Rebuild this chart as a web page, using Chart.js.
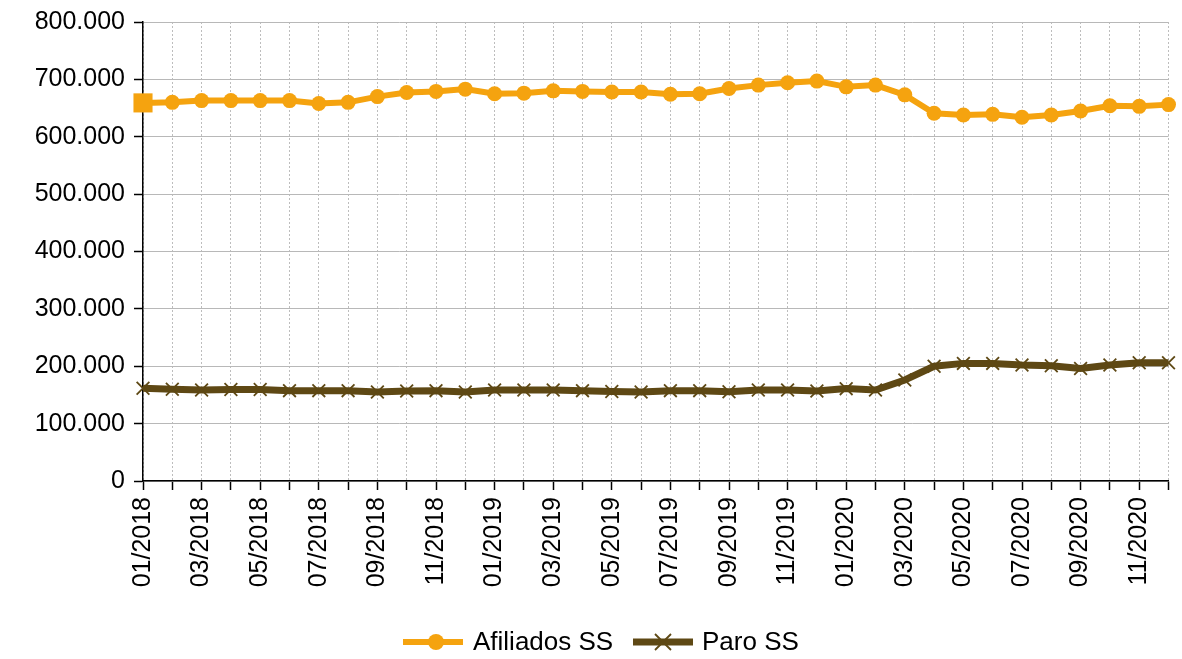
<!DOCTYPE html>
<html><head><meta charset="utf-8">
<script src="https://cdn.jsdelivr.net/npm/chart.js@4.4.1/dist/chart.umd.min.js"></script>
<style>html,body{margin:0;padding:0;background:#fff;overflow:hidden}</style>
</head><body>
<canvas id="c" width="1182" height="659"></canvas>
<script>
const categories = ['01/2018','02/2018','03/2018','04/2018','05/2018','06/2018','07/2018','08/2018','09/2018','10/2018','11/2018','12/2018',
  '01/2019','02/2019','03/2019','04/2019','05/2019','06/2019','07/2019','08/2019','09/2019','10/2019','11/2019','12/2019',
  '01/2020','02/2020','03/2020','04/2020','05/2020','06/2020','07/2020','08/2020','09/2020','10/2020','11/2020','12/2020'];
const afiliados = [659000,660000,663000,663000,663000,663000,658000,660000,670000,677000,679000,683000,
  675000,676000,680000,679000,678000,678000,674000,675000,684000,690000,694000,697000,
  687000,690000,673000,641000,638000,639000,634000,638000,645000,654000,653000,656000];
const paro = [161500,160000,158500,159500,159500,157500,157500,157500,155000,157000,157500,155000,
  158500,158500,158500,157500,156000,155000,157500,157500,155500,158500,158500,157000,
  161000,158500,176000,200000,205000,205000,202000,201000,196000,202000,206000,206000];
const yTickValues = [0,100000,200000,300000,400000,500000,600000,700000,800000];
const seriesNames = ['Afiliados SS','Paro SS'];

const ORANGE = '#f5a30f';
const BROWN = '#5e4814';
const FONT = 'Liberation Sans';

function fmt(v){ return String(v).replace(/\B(?=(\d{3})+(?!\d))/g,'.'); }

const legendPlugin = {
  id:'customLegend',
  afterDraw(chart){
    const ctx = chart.ctx;
    const y = 642;
    ctx.save();
    ctx.lineCap = 'butt';
    ctx.strokeStyle = ORANGE; ctx.lineWidth = 6;
    ctx.beginPath(); ctx.moveTo(403,y); ctx.lineTo(463,y); ctx.stroke();
    ctx.fillStyle = ORANGE;
    ctx.beginPath(); ctx.arc(436,y,8,0,Math.PI*2); ctx.fill();
    ctx.fillStyle = '#000';
    ctx.font = '26px "' + FONT + '"';
    ctx.textBaseline = 'middle'; ctx.textAlign = 'left';
    ctx.fillText(seriesNames[0], 473, y+1);
    ctx.strokeStyle = BROWN; ctx.lineWidth = 7;
    ctx.beginPath(); ctx.moveTo(633,y); ctx.lineTo(693,y); ctx.stroke();
    ctx.lineWidth = 1.8;
    ctx.beginPath(); ctx.moveTo(655,y-8); ctx.lineTo(671,y+8); ctx.moveTo(671,y-8); ctx.lineTo(655,y+8); ctx.stroke();
    ctx.fillStyle = '#000';
    ctx.fillText(seriesNames[1], 702, y+1);
    ctx.restore();
  }
};

new Chart(document.getElementById('c'), {
  type:'line',
  data:{
    labels: categories,
    datasets:[
      { label: seriesNames[0], data: afiliados, borderColor: ORANGE, backgroundColor: ORANGE,
        borderWidth:6, tension:0, clip:false,
        pointStyle: afiliados.map((_,i)=> i===0 ? 'rect' : 'circle'),
        pointRadius: afiliados.map((_,i)=> i===0 ? 13.5 : 7.5),
        pointBorderWidth:0, pointBackgroundColor: ORANGE, pointBorderColor: ORANGE },
      { label: seriesNames[1], data: paro, borderColor: BROWN, backgroundColor: BROWN,
        borderWidth:7, tension:0, clip:false,
        pointStyle:'crossRot', pointRadius:9, pointBorderWidth:1.8, pointBorderColor: BROWN }
    ]
  },
  options:{
    responsive:false, maintainAspectRatio:false, animation:false, devicePixelRatio:1,
    layout:{ padding:{ top:22, right:12, left:0, bottom:0 } },
    plugins:{ legend:{ display:false }, tooltip:{ enabled:false } },
    scales:{
      x:{
        type:'category', offset:false,
        ticks:{ autoSkip:false, minRotation:90, maxRotation:90, padding:7, color:'#000',
          font:{ family:FONT, size:25 },
          callback:(v,i)=> i%2===0 ? categories[i] : '' },
        grid:{ color:'#bdbdbd', lineWidth:1, tickColor:'#000', tickLength:9, tickWidth:1.5, tickBorderDash:[], borderDash:[2,2] },
        border:{ color:'#000', width:1.5, dash:[2,2] },
        afterFit:(s)=>{ s.height = 659 - 481; s.paddingLeft = 0; s.paddingRight = 0; }
      },
      y:{
        min:0, max:800000,
        afterBuildTicks:(s)=>{ s.ticks = yTickValues.map(v=>({value:v})); },
        ticks:{ padding:9, color:'#000', font:{ family:FONT, size:25 }, callback:(v)=> fmt(v) },
        grid:{ color:'#b8b8b8', lineWidth:1, tickColor:'#000', tickLength:9, tickWidth:1.5 },
        border:{ color:'#000', width:1.5 },
        afterFit:(s)=>{ s.width = 143; s.paddingTop = 0; s.paddingBottom = 0; }
      }
    }
  },
  plugins:[legendPlugin]
});
</script>
</body></html>
